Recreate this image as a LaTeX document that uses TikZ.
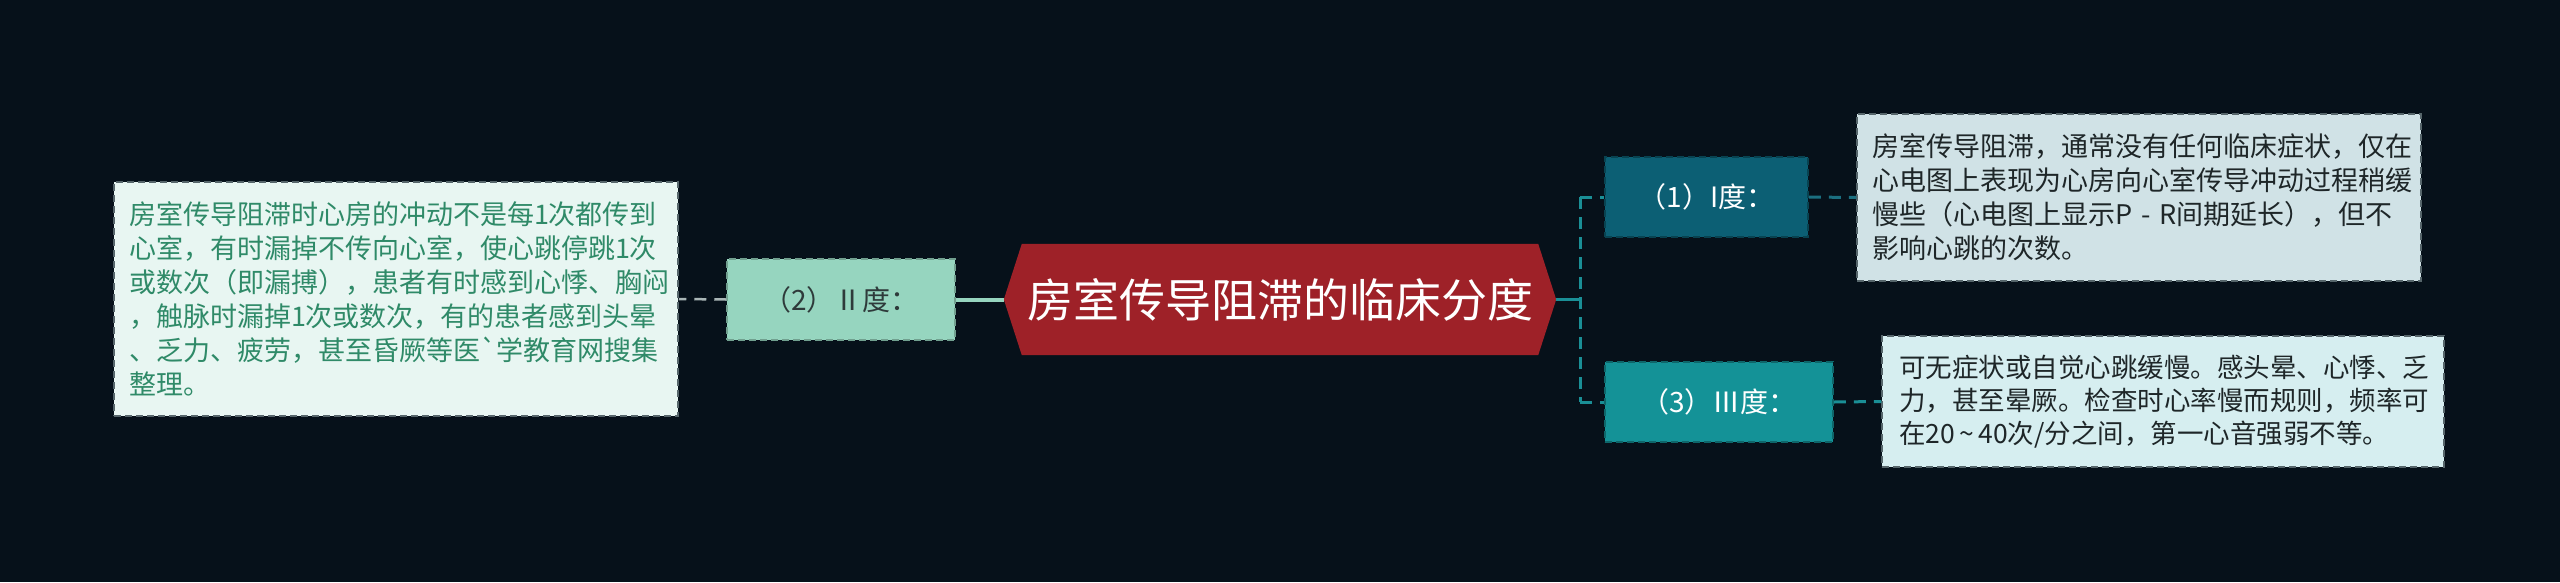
\documentclass[tikz,border=0pt]{standalone}
\usepackage{fontspec}
\newfontfamily\cjk{Noto Sans CJK SC}
\usetikzlibrary{calc}
\definecolor{bg}{HTML}{06111A}
\definecolor{ldfill}{HTML}{E8F6F2}
\definecolor{ldtext}{HTML}{2F8A68}
\definecolor{twofill}{HTML}{96D5BF}
\definecolor{twotext}{HTML}{2E3A3A}
\definecolor{centerfill}{HTML}{9E2128}
\definecolor{onefill}{HTML}{0C5F74}
\definecolor{onedfill}{HTML}{D0E2E6}
\definecolor{threefill}{HTML}{149297}
\definecolor{threedfill}{HTML}{D6EEF0}
\definecolor{txtdark}{HTML}{1E2628}
\definecolor{bordergray}{HTML}{56666B}
\definecolor{leftconn}{HTML}{A9B6B6}
\definecolor{tealconn}{HTML}{1A8F96}
\definecolor{tealdark}{HTML}{1B6F80}
\begin{document}
\begin{tikzpicture}[x=1pt,y=-1pt,
  box/.style={rectangle, inner sep=0pt, dash pattern=on 7pt off 4pt, line width=1.5pt},
  detail/.style={box, align=left, inner xsep=15pt, font=\cjk\fontsize{27}{34}\selectfont, text=txtdark, draw=bordergray},
  lvl/.style={box, align=center, font=\cjk\fontsize{28}{34}\selectfont},
  conn/.style={line width=3pt, dash pattern=on 12pt off 8pt}]
\fill[bg] (0,0) rectangle (2560,582);
\useasboundingbox (0,0) rectangle (2560,582);

% left detail
\node[detail, fill=ldfill, text=ldtext, text width=534pt, minimum height=234pt] (ld) at (396,299)
 {房室传导阻滞时心房的冲动不是每1次都传到\\心室，有时漏掉不传向心室，使心跳停跳1次\\或数次（即漏搏），患者有时感到心悸、胸闷\\，触脉时漏掉1次或数次，有的患者感到头晕\\、乏力、疲劳，甚至昏厥等医\symbol{"60}学教育网搜集\\整理。};

% level II
\node[lvl, fill=twofill, draw=twofill!75!black, text=twotext, minimum width=228pt, minimum height=81pt] (n2) at (841,299.5) {（2）Ⅱ度：};

% center
\node[rectangle, inner sep=0pt, minimum width=552pt, minimum height=111pt] (c) at (1280,299.5) {};
\fill[centerfill] (c.west) -- ($(c.north west)+(18,0)$) -- ($(c.north east)+(-18,0)$) -- (c.east)
  -- ($(c.south east)+(-18,0)$) -- ($(c.south west)+(18,0)$) -- cycle;
\node[font=\cjk\fontsize{46}{50}\selectfont, text=white, inner sep=0pt] (ct) at (c) {房室传导阻滞的临床分度};

% level I
\node[lvl, fill=onefill, draw=onefill!70!black, text=white, minimum width=203pt, minimum height=80pt] (n1) at (1706.5,197) {（1）I度：};
\node[detail, fill=onedfill, text width=534pt, minimum height=167pt] (d1) at (2139,197.5)
 {房室传导阻滞，通常没有任何临床症状，仅在\\心电图上表现为心房向心室传导冲动过程稍缓\\慢些（心电图上显示P - R间期延长），但不\\影响心跳的次数。};

% level III
\node[lvl, fill=threefill, draw=threefill!70!black, text=white, minimum width=228pt, minimum height=80pt] (n3) at (1719,402) {（3）Ⅲ度：};
\node[detail, fill=threedfill, font=\cjk\fontsize{26.5}{33}\selectfont, inner xsep=17pt, text width=528pt, minimum height=131pt] (d3) at (2163,401.5)
 {可无症状或自觉心跳缓慢。感头晕、心悸、乏\\力，甚至晕厥。检查时心率慢而规则，频率可\\在20\,\textasciitilde\,40次/分之间，第一心音强弱不等。};

% junction
\coordinate (j) at (1580,299.5);
\coordinate (j1) at (1580,197);
\coordinate (j3) at (1580,402);

% connectors
\draw[conn, draw=leftconn, line width=2.5pt] (n2.west) -- (ld.east);
\draw[line width=4pt, draw=twofill] (c.west) -- (n2.east);
\draw[line width=3pt, draw=tealconn] (c.east) -- (j);
\draw[conn, draw=tealconn] (j1) -- (j3);
\draw[conn, draw=tealconn] (j1) -- (n1.west);
\draw[conn, draw=tealconn] (j3) -- (n3.west);
\draw[conn, draw=tealdark] (n1.east) -- (d1.west);
\draw[conn, draw=tealconn] (n3.east) -- (d3.west);
\end{tikzpicture}
\end{document}
